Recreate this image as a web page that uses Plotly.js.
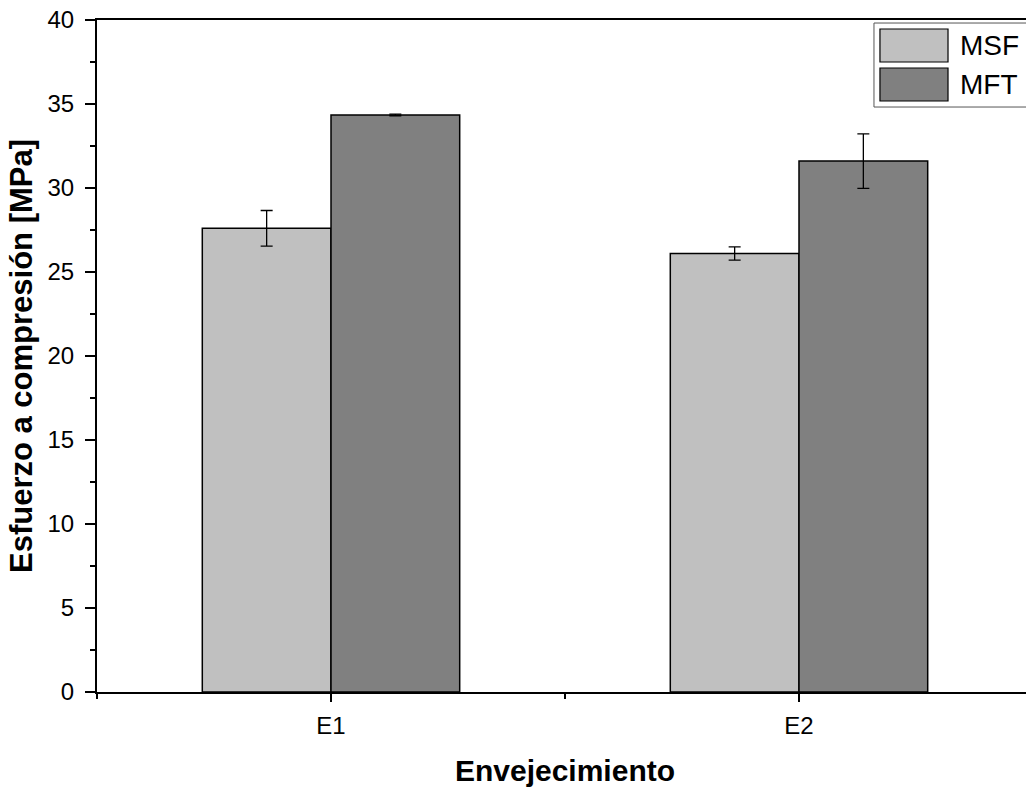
<!DOCTYPE html>
<html>
<head>
<meta charset="utf-8">
<script src="https://cdn.plot.ly/plotly-3.0.1.min.js"></script>
<style>
html, body { margin: 0; padding: 0; overflow: hidden; background: #fff; }
#chart { width: 1040px; height: 787px; }
</style>
</head>
<body>
<div id="chart"></div>
<script>
// ---- data ----
const categories = ['E1', 'E2'];
const seriesNames = ['MSF', 'MFT'];
const msfValues = [27.6, 26.1];
const msfErrors = [1.06, 0.39];
const mftValues = [34.35, 31.6];
const mftErrors = [0.05, 1.62];
const seriesColors = ['#C0C0C0', '#808080'];
const yTickVals = [0, 5, 10, 15, 20, 25, 30, 35, 40];

const xPos = categories.map((c, i) => i);
const FONT = 'Arial, "Liberation Sans", sans-serif';

function barTrace(name, vals, errs, color) {
  return {
    type: 'bar', name: name, x: xPos, y: vals,
    marker: { color: color, line: { color: '#000', width: 1.5 } },
    error_y: { type: 'data', array: errs, visible: true, color: '#000', thickness: 1.3, width: 6 },
    showlegend: false, hoverinfo: 'skip'
  };
}

const data = [
  barTrace(seriesNames[0], msfValues, msfErrors, seriesColors[0]),
  barTrace(seriesNames[1], mftValues, mftErrors, seriesColors[1])
];

// legend drawn as layout shapes/annotations (paper coords)
const legendRows = [
  { y0: 0.9375, y1: 0.9866, ty: 0.962 },
  { y0: 0.8795, y1: 0.9286, ty: 0.904 }
];
const shapes = [{
  type: 'rect', xref: 'paper', yref: 'paper',
  x0: 0.8301, x1: 0.998, y0: 0.8705, y1: 0.9955,
  line: { color: '#555', width: 1 }, fillcolor: '#fff', layer: 'above'
}];
const annotations = [];
seriesNames.forEach((n, i) => {
  shapes.push({
    type: 'rect', xref: 'paper', yref: 'paper',
    x0: 0.8365, x1: 0.9092, y0: legendRows[i].y0, y1: legendRows[i].y1,
    line: { color: '#000', width: 1.2 }, fillcolor: seriesColors[i], layer: 'above'
  });
  annotations.push({
    xref: 'paper', yref: 'paper', x: 0.9195, y: legendRows[i].ty,
    xanchor: 'left', yanchor: 'middle', showarrow: false,
    text: n, font: { family: FONT, size: 28, color: '#000' }
  });
});

const layout = {
  width: 1040, height: 787,
  margin: { l: 97, r: 7, t: 20, b: 95 },
  paper_bgcolor: '#fff', plot_bgcolor: '#fff',
  barmode: 'group', bargap: 0.45, bargroupgap: 0,
  font: { family: FONT, color: '#000' },
  xaxis: {
    type: 'linear', range: [-0.5, 1.5],
    tickmode: 'array', tickvals: xPos, ticktext: categories,
    ticks: 'outside', ticklen: 8, tickwidth: 1.5, tickcolor: '#000',
    minor: { tick0: -0.5, dtick: 1, ticks: 'outside', ticklen: 5, tickwidth: 1.5, tickcolor: '#000', showgrid: false },
    showline: true, linecolor: '#000', linewidth: 2, mirror: true,
    showgrid: false, zeroline: false,
    tickfont: { family: FONT, size: 24, color: '#000' },
    ticklabelstandoff: 3,
    title: { text: '<b>Envejecimiento</b>', font: { family: FONT, size: 30, color: '#000' }, standoff: 34 }
  },
  yaxis: {
    range: [0, 40], tickmode: 'array', tickvals: yTickVals,
    ticks: 'outside', ticklen: 10, tickwidth: 1.5, tickcolor: '#000',
    minor: { dtick: 2.5, ticks: 'outside', ticklen: 5, tickwidth: 1.5, tickcolor: '#000', showgrid: false },
    showline: true, linecolor: '#000', linewidth: 2, mirror: true,
    showgrid: false, zeroline: false,
    tickfont: { family: FONT, size: 24, color: '#000' },
    ticklabelstandoff: 6,
    title: { text: '<b>Esfuerzo a compresión [MPa]</b>', font: { family: FONT, size: 31, color: '#000' }, standoff: 6 }
  },
  shapes: shapes,
  annotations: annotations
};

Plotly.newPlot('chart', data, layout, { displayModeBar: false, staticPlot: true });
</script>
</body>
</html>
